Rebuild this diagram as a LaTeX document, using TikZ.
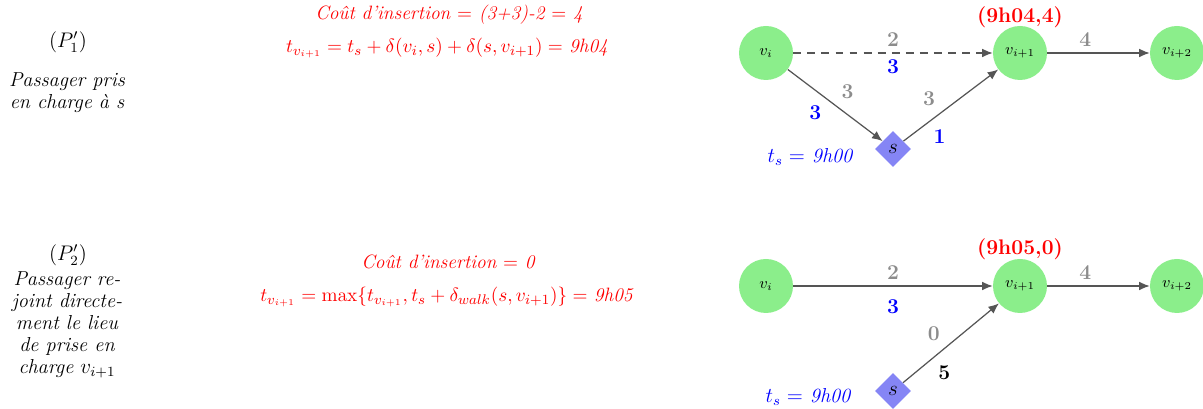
\documentclass[tikz,border=0pt]{standalone}
\usepackage{amsmath,amssymb}
\usepackage{tikz}
\usepackage{xcolor}
\usetikzlibrary{shapes.geometric,arrows.meta}
\definecolor{stopgreen}{HTML}{8BEE8B}
\definecolor{pickblue}{HTML}{8585F5}
\definecolor{arcgray}{HTML}{555555}
\definecolor{wgray}{HTML}{8C8C8C}

\begin{document}
\begin{tikzpicture}[x=1cm,y=1cm,every node/.style={font=\fontsize{11.5}{12.5}\selectfont},
  stop/.style={circle,fill=stopgreen,minimum size=1.08cm,inner sep=0pt,font=\small},
  pickup/.style={diamond,fill=pickblue,minimum size=0.72cm,inner sep=0pt},
  arc/.style={arcgray,line width=0.7pt,-{Latex[length=6pt,width=5pt]}},
  wlbl/.style={text=wgray,font=\large\bfseries},
  dlbl/.style={text=blue,font=\large\bfseries},
  note/.style={text=red,font=\fontsize{11}{13}\selectfont\itshape},
  tsnote/.style={text=blue,font=\fontsize{11.5}{13}\selectfont\itshape}]
\useasboundingbox (0,0) rectangle (24.06,-8.18);
\node (title1) at (1.36,-0.84) {$(P'_1)$};
\node[align=center,font=\fontsize{11.5}{12.5}\selectfont\itshape] (desc1) at (1.34,-1.86) {Passager pris\\en charge à s};
\node[note] (cost1) at (8.98,-0.30) {Coût d'insertion $=$ (3+3)-2 $=$ 4};
\node[note,font=\fontsize{11}{13}\selectfont] (time1) at (8.94,-0.96) {$t_{v_{i+1}} = t_s + \delta(v_i,s) + \delta(s,v_{i+1}) =$ \textit{9h04}};
\node[stop] (vi1) at (15.32,-1.06) {$v_i$};
\node[stop] (vj1) at (20.40,-1.06) {$v_{i+1}$};
\node[stop] (vk1) at (23.54,-1.06) {$v_{i+2}$};
\node[pickup] (s1) at (17.86,-2.98) {$s$};
\node[text=red,font=\large\bfseries] (tag1) at (20.40,-0.34) {(9h04,4)};
\node[tsnote] (ts1) at (16.20,-3.14) {$t_s =$ 9h00};
\draw[arc,dash pattern=on 4.5pt off 3.5pt] (vi1) -- node[wlbl,above] (w11) {2} node[dlbl,below] (d11) {3} (vj1);
\draw[arc] (vj1) -- node[wlbl,above,pos=0.37] (w12) {4} (vk1);
\draw[arc] (vi1) -- node[wlbl,above right] (w13) {3} node[dlbl,below left,pos=0.42] (d13) {3} (s1);
\draw[arc] (s1) -- node[wlbl,above left,pos=0.4] (w14) {3} node[dlbl,below right,pos=0.25] (d14) {1} (vj1);
\node (title2) at (1.36,-5.10) {$(P'_2)$};
\node[align=center,font=\fontsize{11.5}{12.5}\selectfont\itshape] (desc2) at (1.34,-6.50) {Passager re-\\joint directe-\\ment le lieu\\de prise en\\charge $v_{i+1}$};
\node[note] (cost2) at (8.96,-5.24) {Coût d'insertion $=$ 0};
\node[note,font=\fontsize{11}{13}\selectfont] (time2) at (8.94,-5.94) {$t_{v_{i+1}} = \max\{t_{v_{i+1}}, t_s + \delta_{walk}(s,v_{i+1})\} =$ \textit{9h05}};
\node[stop] (vi2) at (15.32,-5.72) {$v_i$};
\node[stop] (vj2) at (20.40,-5.72) {$v_{i+1}$};
\node[stop] (vk2) at (23.54,-5.72) {$v_{i+2}$};
\node[pickup] (s2) at (17.86,-7.82) {$s$};
\node[text=red,font=\large\bfseries] (tag2) at (20.40,-4.98) {(9h05,0)};
\node[tsnote] (ts2) at (16.16,-7.94) {$t_s =$ 9h00};
\draw[arc] (vi2) -- node[wlbl,above] (w21) {2} node[dlbl,below=4pt] (d21) {3} (vj2);
\draw[arc] (vj2) -- node[wlbl,above,pos=0.37] (w22) {4} (vk2);
\draw[arc] (s2) -- node[wlbl,above left,pos=0.45] (w23) {0} node[text=black,below right,pos=0.3,font=\large\bfseries] (d23) {5} (vj2);
\end{tikzpicture}
\end{document}
